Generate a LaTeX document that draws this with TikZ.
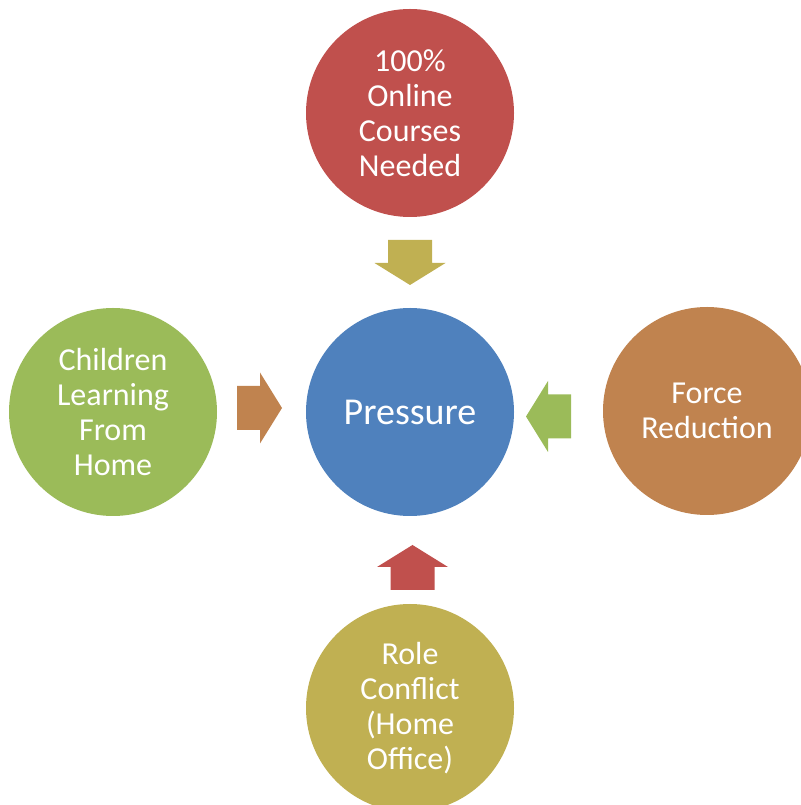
\documentclass[tikz,border=0pt]{standalone}
\usepackage{fontspec}
\setmainfont{Carlito}
\definecolor{smartred}{HTML}{C0504D}
\definecolor{smartblue}{HTML}{4F81BD}
\definecolor{smartgreen}{HTML}{9BBB59}
\definecolor{smartbrown}{HTML}{C0834F}
\definecolor{smartolive}{HTML}{C0B052}
\tikzset{
  bubble/.style={circle,draw=none,minimum size=208bp,inner sep=0pt,text=white,align=center,
    font=\fontsize{32bp}{35bp}\selectfont},
  blockarrow/.pic={\fill (-22.5bp,-22bp) -- (0.5bp,-22bp) -- (0.5bp,-35.5bp) -- (22.5bp,0bp)
    -- (0.5bp,35.5bp) -- (0.5bp,22bp) -- (-22.5bp,22bp) -- cycle;},
}
\begin{document}
\begin{tikzpicture}[line join=bevel,]
\useasboundingbox (0bp,0bp) rectangle (801bp,805bp);
\clip (0bp,0bp) rectangle (801bp,805bp);
%%
\node (node_0) at (410bp,393bp) [bubble,fill=smartblue,font=\fontsize{38bp}{42bp}\selectfont] {Pressure};
  \node (node_1) at (410bp,692bp) [bubble,fill=smartred] {100\%\\Online\\Courses\\Needed};
  \node (node_2) at (707bp,394bp) [bubble,fill=smartbrown] {Force\\Reduction};
  \node (node_3) at (410bp,97bp) [bubble,fill=smartolive] {Role\\Conflict\\(Home\\Office)};
  \node (node_4) at (113bp,393bp) [bubble,fill=smartgreen] {Children\\Learning\\From\\Home};
%
  \pic (arrow_1) at (410bp,542.5bp) [fill=smartolive,rotate=270] {blockarrow};
  \pic (arrow_2) at (548.5bp,388.5bp) [fill=smartgreen,rotate=180] {blockarrow};
  \pic (arrow_3) at (412.5bp,237.5bp) [fill=smartred,rotate=90] {blockarrow};
  \pic (arrow_4) at (259.5bp,397bp) [fill=smartbrown] {blockarrow};
%
\end{tikzpicture}
\end{document}
